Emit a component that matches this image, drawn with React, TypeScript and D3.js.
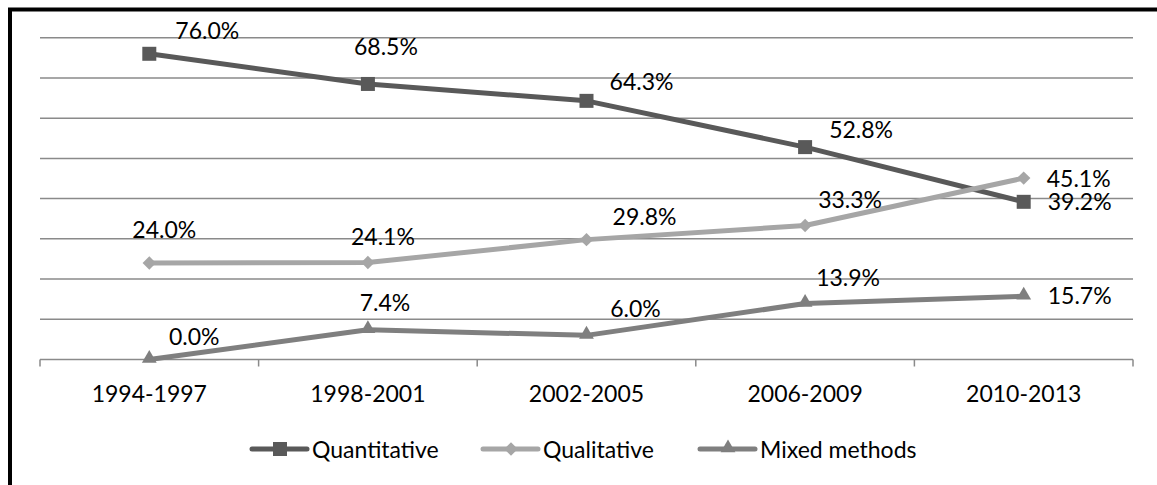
import React from "react";
import * as d3 from "d3";

const categories = ["1994-1997", "1998-2001", "2002-2005", "2006-2009", "2010-2013"];
const quantitative = [76.0, 68.5, 64.3, 52.8, 39.2];
const qualitative = [24.0, 24.1, 29.8, 33.3, 45.1];
const mixedMethods = [0.0, 7.4, 6.0, 13.9, 15.7];
const seriesNames = ["Quantitative", "Qualitative", "Mixed methods"];
const yTicks = [0, 10, 20, 30, 40, 50, 60, 70, 80];

// manual label placement (dx, dy from the point to label centre/baseline)
const labelOffsets = [
  [[58, -15], [18, -29], [55, -11], [56, -9], [56, 8]],
  [[15, -25], [15, -18], [58, -15], [45, -18], [55, 9]],
  [[45, -15], [17, -19], [49, -18], [43, -18], [56, 8]],
];

const W = 1157;
const H = 485;
const FONT = "Lato, 'Open Sans', sans-serif";
const colors = ["#595959", "#a6a6a6", "#7f7f7f"];
const symbols = ["square", "diamond", "triangle"];
const legendX = [252, 483, 700];

function Marker({ kind, x, y, color, size = 1 }: any) {
  let d = "";
  if (kind === "square") d = d3.symbol(d3.symbolSquare, 196 * size)() as string;
  else if (kind === "diamond") d = d3.symbol(d3.symbolSquare, 90 * size)() as string;
  else d = d3.symbol(d3.symbolTriangle, 95 * size)() as string;
  const rot = kind === "diamond" ? " rotate(45)" : "";
  const dy = kind === "triangle" ? -1 : 0;
  return <path d={d} transform={`translate(${x},${y + dy})${rot}`} fill={color} />;
}

export default function App() {
  const x0 = 40, x1 = 1133;
  const y = d3.scaleLinear().domain([0, 80]).range([359.5, 37.7]);
  const xb = d3.scaleBand().domain(categories).range([x0, x1]);
  const xc = (c: string) => (xb(c) as number) + xb.bandwidth() / 2;
  const series = [quantitative, qualitative, mixedMethods];
  const line = d3.line<number>().x((_, i) => xc(categories[i])).y((v) => y(v));
  const tickXs = categories.map((c) => xb(c) as number).concat([x1]);

  return (
    <svg width={W} height={H} style={{ position: "absolute", left: 0, top: 0, background: "#fff" }}>
      <rect x={0} y={0} width={W} height={H} fill="#fff" />
      {yTicks.slice(1).map((t) => (
        <line key={t} x1={x0} x2={x1} y1={y(t)} y2={y(t)} stroke="#8a8a8a" strokeWidth={1.5} />
      ))}
      <line x1={x0} x2={x1} y1={y(0)} y2={y(0)} stroke="#8a8a8a" strokeWidth={1.5} />
      {tickXs.map((tx, i) => (
        <line key={i} x1={tx} x2={tx} y1={y(0)} y2={y(0) + 7} stroke="#8a8a8a" strokeWidth={1.5} />
      ))}
      {categories.map((c) => (
        <text key={c} x={xc(c)} y={401.5} textAnchor="middle" fontFamily={FONT} fontSize={23} fill="#000">
          {c}
        </text>
      ))}
      {series.map((s, si) => (
        <g key={si}>
          <path d={line(s) as string} fill="none" stroke={colors[si]} strokeWidth={5} strokeLinejoin="round" />
          {s.map((v, i) => (
            <Marker key={i} kind={symbols[si]} x={xc(categories[i])} y={y(v)} color={colors[si]} />
          ))}
        </g>
      ))}
      {series.map((s, si) =>
        s.map((v, i) => (
          <text
            key={`${si}-${i}`}
            x={xc(categories[i]) + labelOffsets[si][i][0]}
            y={y(v) + labelOffsets[si][i][1]}
            textAnchor="middle"
            fontFamily={FONT}
            fontSize={23}
            fill="#000"
          >
            {v.toFixed(1) + "%"}
          </text>
        ))
      )}
      {seriesNames.map((n, si) => (
        <g key={n}>
          <line x1={legendX[si]} x2={legendX[si] + 55} y1={449} y2={449} stroke={colors[si]} strokeWidth={5} strokeLinecap="round" />
          <Marker kind={symbols[si]} x={legendX[si] + 28} y={449} color={colors[si]} />
          <text x={legendX[si] + 60} y={458} fontFamily={FONT} fontSize={23} fill="#000">
            {n}
          </text>
        </g>
      ))}
      <path d={`M10,${H} V9.5 H${W}`} fill="none" stroke="#000" strokeWidth={4} />
    </svg>
  );
}
